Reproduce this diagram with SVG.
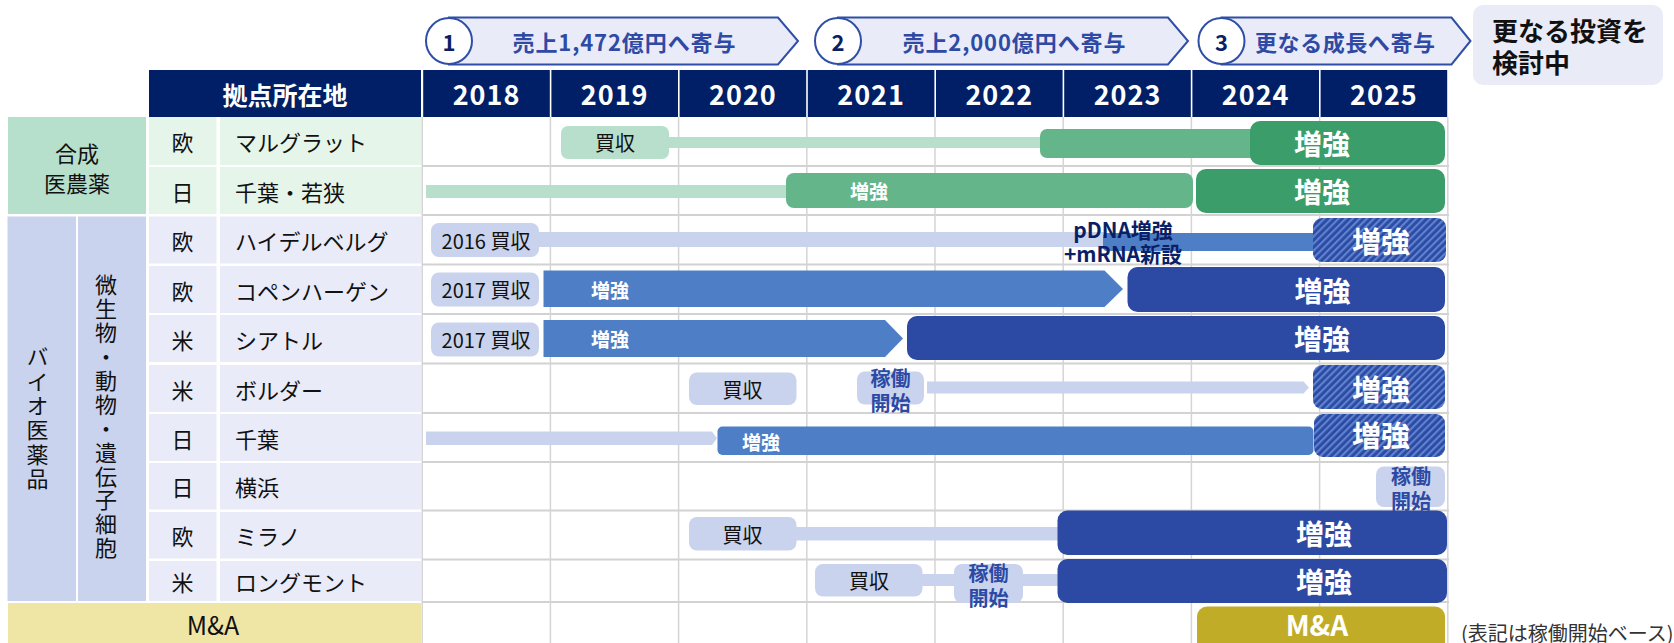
<svg xmlns="http://www.w3.org/2000/svg" width="1674" height="643" viewBox="0 0 1674 643">
<defs>
<pattern id="hatch" width="5" height="5" patternUnits="userSpaceOnUse" patternTransform="rotate(45)">
<rect width="5" height="5" fill="#2c49a3"/>
<rect width="2.2" height="5" fill="#5d82ce"/>
</pattern>
<style>
text{font-family:'Noto Sans CJK JP','Noto Sans',sans-serif;dominant-baseline:central;}
.c{text-anchor:middle;}
.lbl{font-size:22px;fill:#111;}
.vt{writing-mode:vertical-rl;text-orientation:upright;}
.hd{font-weight:700;fill:#fff;}
.yr{font-size:27px;letter-spacing:1px;}
.ban{fill:#e9ebf8;stroke:#2f4ea5;stroke-width:2;}
.circ{fill:#fff;stroke:#2f4ea5;stroke-width:2;}
.bant{font-size:22px;font-weight:700;fill:#2e4aa5;}
.num{font-size:22px;font-weight:700;fill:#0b1f66;}
.navy{fill:#001f66;}
.gcat{fill:#b6e0cc;}
.gcell{fill:#e6f5ea;}
.bcat{fill:#c9d3ee;}
.bcell{fill:#e9ecf8;}
.grid{stroke:#d4d4d4;stroke-width:1.5;}
.hgrid{stroke:#d2d2d2;stroke-width:2;}
.lg{fill:#b8dfcc;}
.mg{fill:#64b68a;}
.dg{fill:#3a9d6a;}
.lb{fill:#c9d3ee;}
.mb{fill:#4e7ec5;}
.db{fill:#2c49a3;}
.hb{fill:url(#hatch);}
.gold{fill:#c0ac27;}
.pt{font-size:20px;fill:#111;}
.ws{font-size:19px;font-weight:700;fill:#fff;}
.wl{font-size:28px;font-weight:700;fill:#fff;}
.kt{font-size:20px;font-weight:700;fill:#2c4aa4;}
.nv{font-size:21px;font-weight:700;fill:#0b1f66;}
</style>
</defs>

<g id="banners">
<g id="phase1">
<polygon class="ban" points="449,17.5 778,17.5 798,41 778,64.5 449,64.5"/>
<circle class="circ" cx="449" cy="41" r="23"/>
<text class="c num" x="449" y="41">1</text>
<text class="c bant" x="624" y="41" textLength="223">売上1,472億円へ寄与</text>
</g>
<g id="phase2">
<polygon class="ban" points="838,17.5 1168,17.5 1188,41 1168,64.5 838,64.5"/>
<circle class="circ" cx="838" cy="41" r="23"/>
<text class="c num" x="838" y="41">2</text>
<text class="c bant" x="1014" y="41" textLength="223">売上2,000億円へ寄与</text>
</g>
<g id="phase3">
<polygon class="ban" points="1221.5,17.5 1451.5,17.5 1470.5,41 1451.5,64.5 1221.5,64.5"/>
<circle class="circ" cx="1221.5" cy="41" r="23"/>
<text class="c num" x="1221.5" y="41">3</text>
<text class="c bant" x="1345" y="41" textLength="180">更なる成長へ寄与</text>
</g>
<g id="future">
<rect x="1473" y="5" width="190" height="80" rx="10" fill="#e9ebf7"/>
<text style="font-size:26px;font-weight:700;fill:#111"><tspan x="1492" y="29">更なる投資を</tspan><tspan x="1492" y="61">検討中</tspan></text>
</g>
</g>

<g id="header">
<rect class="navy" x="149" y="70" width="272" height="47"/>
<text class="c hd" x="285" y="93.5" style="font-size:25px">拠点所在地</text>
<rect class="navy" x="423.2" y="70" width="126.6" height="47"/>
<rect class="navy" x="551.4" y="70" width="126.6" height="47"/>
<rect class="navy" x="679.6" y="70" width="126.6" height="47"/>
<rect class="navy" x="807.8" y="70" width="126.6" height="47"/>
<rect class="navy" x="936" y="70" width="126.6" height="47"/>
<rect class="navy" x="1064.2" y="70" width="126.6" height="47"/>
<rect class="navy" x="1192.4" y="70" width="126.6" height="47"/>
<rect class="navy" x="1320.6" y="70" width="126.6" height="47"/>
<text class="c hd yr" x="486.5" y="93.5">2018</text>
<text class="c hd yr" x="614.7" y="93.5">2019</text>
<text class="c hd yr" x="742.9" y="93.5">2020</text>
<text class="c hd yr" x="871.1" y="93.5">2021</text>
<text class="c hd yr" x="999.3" y="93.5">2022</text>
<text class="c hd yr" x="1127.5" y="93.5">2023</text>
<text class="c hd yr" x="1255.7" y="93.5">2024</text>
<text class="c hd yr" x="1383.9" y="93.5">2025</text>
</g>

<g id="grid">
<line class="hgrid" x1="422" y1="166" x2="1449" y2="166"/>
<line class="hgrid" x1="422" y1="215" x2="1449" y2="215"/>
<line class="hgrid" x1="422" y1="264.5" x2="1449" y2="264.5"/>
<line class="hgrid" x1="422" y1="314" x2="1449" y2="314"/>
<line class="hgrid" x1="422" y1="363.5" x2="1449" y2="363.5"/>
<line class="hgrid" x1="422" y1="413" x2="1449" y2="413"/>
<line class="hgrid" x1="422" y1="462" x2="1449" y2="462"/>
<line class="hgrid" x1="422" y1="510.5" x2="1449" y2="510.5"/>
<line class="hgrid" x1="422" y1="559.5" x2="1449" y2="559.5"/>
<line class="hgrid" x1="422" y1="602" x2="1449" y2="602"/>
<line class="grid" x1="422.2" y1="117" x2="422.2" y2="643"/>
<line class="grid" x1="550.4" y1="117" x2="550.4" y2="643"/>
<line class="grid" x1="678.6" y1="117" x2="678.6" y2="643"/>
<line class="grid" x1="806.8" y1="117" x2="806.8" y2="643"/>
<line class="grid" x1="935" y1="117" x2="935" y2="643"/>
<line class="grid" x1="1063.2" y1="117" x2="1063.2" y2="643"/>
<line class="grid" x1="1191.4" y1="117" x2="1191.4" y2="643"/>
<line class="grid" x1="1319.6" y1="117" x2="1319.6" y2="643"/>
<line class="grid" x1="1447.8" y1="117" x2="1447.8" y2="643"/>
</g>

<g id="categories">
<g id="cat-agro">
<rect class="gcat" x="8" y="117" width="138" height="97"/>
<text class="c lbl"><tspan x="77" y="152">合成</tspan><tspan x="77" y="182">医農薬</tspan></text>
</g>
<g id="cat-bio">
<rect class="bcat" x="7.5" y="216.5" width="68.5" height="384.5"/>
<text class="lbl vt" x="37.5" y="346" style="letter-spacing:2.3px">バイオ医薬品</text>
</g>
<g id="cat-cell">
<rect class="bcat" x="78" y="216.5" width="68" height="384.5"/>
<text class="lbl vt" x="106" y="274" style="letter-spacing:1.9px">微生物・動物・遺伝子細胞</text>
</g>
<g id="cat-ma">
<rect x="8" y="603" width="413" height="40" fill="#efe6a5"/>
<text class="c lbl" x="213" y="624" style="font-size:25px">M&amp;A</text>
</g>
</g>

<g id="sites">
<g id="site-marglatt">
<rect class="gcell" x="149" y="117" width="67.5" height="48"/>
<rect class="gcell" x="220" y="117" width="201" height="48"/>
<text class="c lbl" x="182.5" y="141">欧</text>
<text class="lbl" x="235" y="141">マルグラット</text>
</g>
<g id="site-chiba-wakasa">
<rect class="gcell" x="149" y="167" width="67.5" height="47"/>
<rect class="gcell" x="220" y="167" width="201" height="47"/>
<text class="c lbl" x="182.5" y="190.5">日</text>
<text class="lbl" x="235" y="190.5">千葉・若狭</text>
</g>
<g id="site-heidelberg">
<rect class="bcell" x="149" y="216.5" width="67.5" height="47"/>
<rect class="bcell" x="220" y="216.5" width="201" height="47"/>
<text class="c lbl" x="182.5" y="240">欧</text>
<text class="lbl" x="235" y="240">ハイデルベルグ</text>
</g>
<g id="site-copenhagen">
<rect class="bcell" x="149" y="266" width="67.5" height="47"/>
<rect class="bcell" x="220" y="266" width="201" height="47"/>
<text class="c lbl" x="182.5" y="289.5">欧</text>
<text class="lbl" x="235" y="289.5">コペンハーゲン</text>
</g>
<g id="site-seattle">
<rect class="bcell" x="149" y="315" width="67.5" height="47"/>
<rect class="bcell" x="220" y="315" width="201" height="47"/>
<text class="c lbl" x="182.5" y="338.5">米</text>
<text class="lbl" x="235" y="338.5">シアトル</text>
</g>
<g id="site-boulder">
<rect class="bcell" x="149" y="365" width="67.5" height="47"/>
<rect class="bcell" x="220" y="365" width="201" height="47"/>
<text class="c lbl" x="182.5" y="388.5">米</text>
<text class="lbl" x="235" y="388.5">ボルダー</text>
</g>
<g id="site-chiba">
<rect class="bcell" x="149" y="414" width="67.5" height="47"/>
<rect class="bcell" x="220" y="414" width="201" height="47"/>
<text class="c lbl" x="182.5" y="437.5">日</text>
<text class="lbl" x="235" y="437.5">千葉</text>
</g>
<g id="site-yokohama">
<rect class="bcell" x="149" y="463" width="67.5" height="46.5"/>
<rect class="bcell" x="220" y="463" width="201" height="46.5"/>
<text class="c lbl" x="182.5" y="486">日</text>
<text class="lbl" x="235" y="486">横浜</text>
</g>
<g id="site-milano">
<rect class="bcell" x="149" y="512" width="67.5" height="46.5"/>
<rect class="bcell" x="220" y="512" width="201" height="46.5"/>
<text class="c lbl" x="182.5" y="535">欧</text>
<text class="lbl" x="235" y="535">ミラノ</text>
</g>
<g id="site-longmont">
<rect class="bcell" x="149" y="561" width="67.5" height="40"/>
<rect class="bcell" x="220" y="561" width="201" height="40"/>
<text class="c lbl" x="182.5" y="581">米</text>
<text class="lbl" x="235" y="581">ロングモント</text>
</g>
</g>

<g id="connectors">
<rect class="lg" x="668" y="137" width="377" height="11"/>
<rect class="lg" x="426" y="185" width="364" height="13"/>
<rect class="lb" x="539" y="232" width="567" height="15"/>
<polygon class="lb" points="927,381.5 1303.5,381.5 1309,387.5 1303.5,393.5 927,393.5"/>
<polygon class="lb" points="426,431.5 712,431.5 717,438.3 712,445 426,445"/>
<rect class="lb" x="795" y="527" width="267" height="13.5"/>
<rect class="lb" x="921" y="574" width="35" height="12"/>
<rect class="lb" x="1021" y="574" width="39" height="12"/>
</g>

<g id="bars">
<g id="bar-marglatt">
<rect class="lg" x="561" y="126" width="108" height="33" rx="7"/>
<text class="c pt" x="615" y="142.5">買収</text>
<rect class="mg" x="1040" y="129" width="240" height="29" rx="7"/>
<rect class="dg" x="1250" y="121" width="195" height="44" rx="10"/>
<text class="c wl" x="1322" y="143">増強</text>
</g>
<g id="bar-chiba-wakasa">
<rect class="mg" x="786" y="173" width="407" height="35" rx="8"/>
<text class="c ws" x="869" y="190.5">増強</text>
<rect class="dg" x="1196" y="169" width="249" height="44" rx="10"/>
<text class="c wl" x="1322" y="191">増強</text>
</g>
<g id="bar-heidelberg">
<rect class="lb" x="431" y="223" width="108" height="34" rx="8"/>
<text class="c pt" x="486" y="240">2016 買収</text>
<rect class="mb" x="1103" y="233" width="214" height="18" rx="4"/>
<rect class="hb" x="1313" y="218" width="133" height="44" rx="9"/>
<text class="c wl" x="1381" y="240" style="font-size:29px">増強</text>
<text class="c nv"><tspan x="1123" y="229">pDNA増強</tspan><tspan x="1123" y="253">+mRNA新設</tspan></text>
</g>
<g id="bar-copenhagen">
<rect class="lb" x="431" y="272.5" width="108" height="34" rx="8"/>
<text class="c pt" x="486" y="289.5">2017 買収</text>
<polygon class="mb" points="543.5,270.5 1104.5,270.5 1123,289 1104.5,307 543.5,307"/>
<text class="c ws" x="610" y="289">増強</text>
<rect class="db" x="1127.5" y="267" width="317.5" height="45" rx="10"/>
<text class="c wl" x="1322.5" y="289.5">増強</text>
</g>
<g id="bar-seattle">
<rect class="lb" x="431" y="322.5" width="108" height="34" rx="8"/>
<text class="c pt" x="486" y="339.5">2017 買収</text>
<polygon class="mb" points="543.5,320 885,320 903,338.5 885,357 543.5,357"/>
<text class="c ws" x="610" y="338.5">増強</text>
<rect class="db" x="907" y="316" width="538" height="44" rx="10"/>
<text class="c wl" x="1322" y="338">増強</text>
</g>
<g id="bar-boulder">
<rect class="lb" x="689" y="372.5" width="107.5" height="32.5" rx="8"/>
<text class="c pt" x="742.5" y="389">買収</text>
<rect class="lb" x="857" y="371.5" width="67" height="33" rx="8"/>
<text class="c kt"><tspan x="890.5" y="377">稼働</tspan><tspan x="890.5" y="402">開始</tspan></text>
<rect class="hb" x="1313" y="365" width="132" height="44" rx="9"/>
<text class="c wl" x="1381" y="388" style="font-size:29px">増強</text>
</g>
<g id="bar-chiba">
<rect class="mb" x="717.5" y="426.5" width="596" height="28.5" rx="5"/>
<text class="c ws" x="761" y="441">増強</text>
<rect class="hb" x="1314" y="414" width="131" height="43" rx="9"/>
<text class="c wl" x="1381" y="434" style="font-size:29px">増強</text>
</g>
<g id="bar-yokohama">
<rect class="lb" x="1376" y="466.5" width="69" height="40.5" rx="8"/>
<text class="c kt"><tspan x="1411" y="475">稼働</tspan><tspan x="1411" y="500">開始</tspan></text>
</g>
<g id="bar-milano">
<rect class="lb" x="689" y="517" width="107.5" height="33.5" rx="8"/>
<text class="c pt" x="742.5" y="534">買収</text>
<rect class="db" x="1057.5" y="510.5" width="389.5" height="44.5" rx="10"/>
<text class="c wl" x="1324" y="533">増強</text>
</g>
<g id="bar-longmont">
<rect class="lb" x="815" y="564" width="107.5" height="32.5" rx="8"/>
<text class="c pt" x="869" y="580">買収</text>
<rect class="lb" x="954" y="564" width="69" height="39" rx="8"/>
<text class="c kt"><tspan x="988.5" y="571.5">稼働</tspan><tspan x="988.5" y="596.5">開始</tspan></text>
<rect class="db" x="1057.5" y="559" width="389.5" height="44" rx="10"/>
<text class="c wl" x="1324" y="581">増強</text>
</g>
<g id="bar-ma">
<rect class="gold" x="1197" y="606.5" width="248" height="50" rx="10"/>
<text class="c wl" x="1317" y="624" style="font-size:28px">M&amp;A</text>
</g>
</g>

<text id="note" x="1461" y="632" style="font-size:20px;fill:#333">(表記は稼働開始ベース)</text>
</svg>
